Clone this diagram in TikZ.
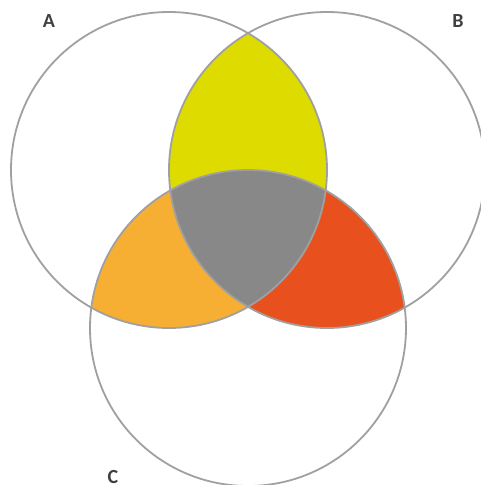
\documentclass[tikz,border=0pt]{standalone}
\usepackage{fontspec}
\setsansfont{Carlito}
\usepackage{tikz}
\definecolor{venny}{RGB}{221,219,0}
\definecolor{venno}{RGB}{247,175,51}
\definecolor{vennr}{RGB}{232,80,30}
\definecolor{venng}{RGB}{136,136,136}
\definecolor{vennline}{RGB}{160,160,160}
\definecolor{vennlab}{RGB}{64,64,64}
\tikzset{
  setlabel/.style={font=\sffamily\bfseries\fontsize{20}{24}\selectfont,text=vennlab,inner sep=0pt},
  setline/.style={draw=vennline,line width=1.8pt}
}
\def\circA{(169,170) circle [radius=158pt]}
\def\circB{(327,170) circle [radius=158pt]}
\def\circC{(248,328) circle [radius=158pt]}

\begin{document}
\begin{tikzpicture}[x=1pt,y=-1pt]
\useasboundingbox (0,0) rectangle (480,485);
% pairwise overlaps
\begin{scope}
  \clip \circA; \clip \circB;
  \fill[venny] (0,0) rectangle (480,485);
\end{scope}
\begin{scope}
  \clip \circA; \clip \circC;
  \fill[venno] (0,0) rectangle (480,485);
\end{scope}
\begin{scope}
  \clip \circB; \clip \circC;
  \fill[vennr] (0,0) rectangle (480,485);
\end{scope}
% all three
\begin{scope}
  \clip \circA; \clip \circB; \clip \circC;
  \fill[venng] (0,0) rectangle (480,485);
\end{scope}
\draw[setline] \circA;
\draw[setline] \circB;
\draw[setline] \circC;
\node[setlabel] (labA) at (49,21) {A};
\node[setlabel] (labB) at (458,21) {B};
\node[setlabel] (labC) at (113,477) {C};
\end{tikzpicture}
\end{document}
